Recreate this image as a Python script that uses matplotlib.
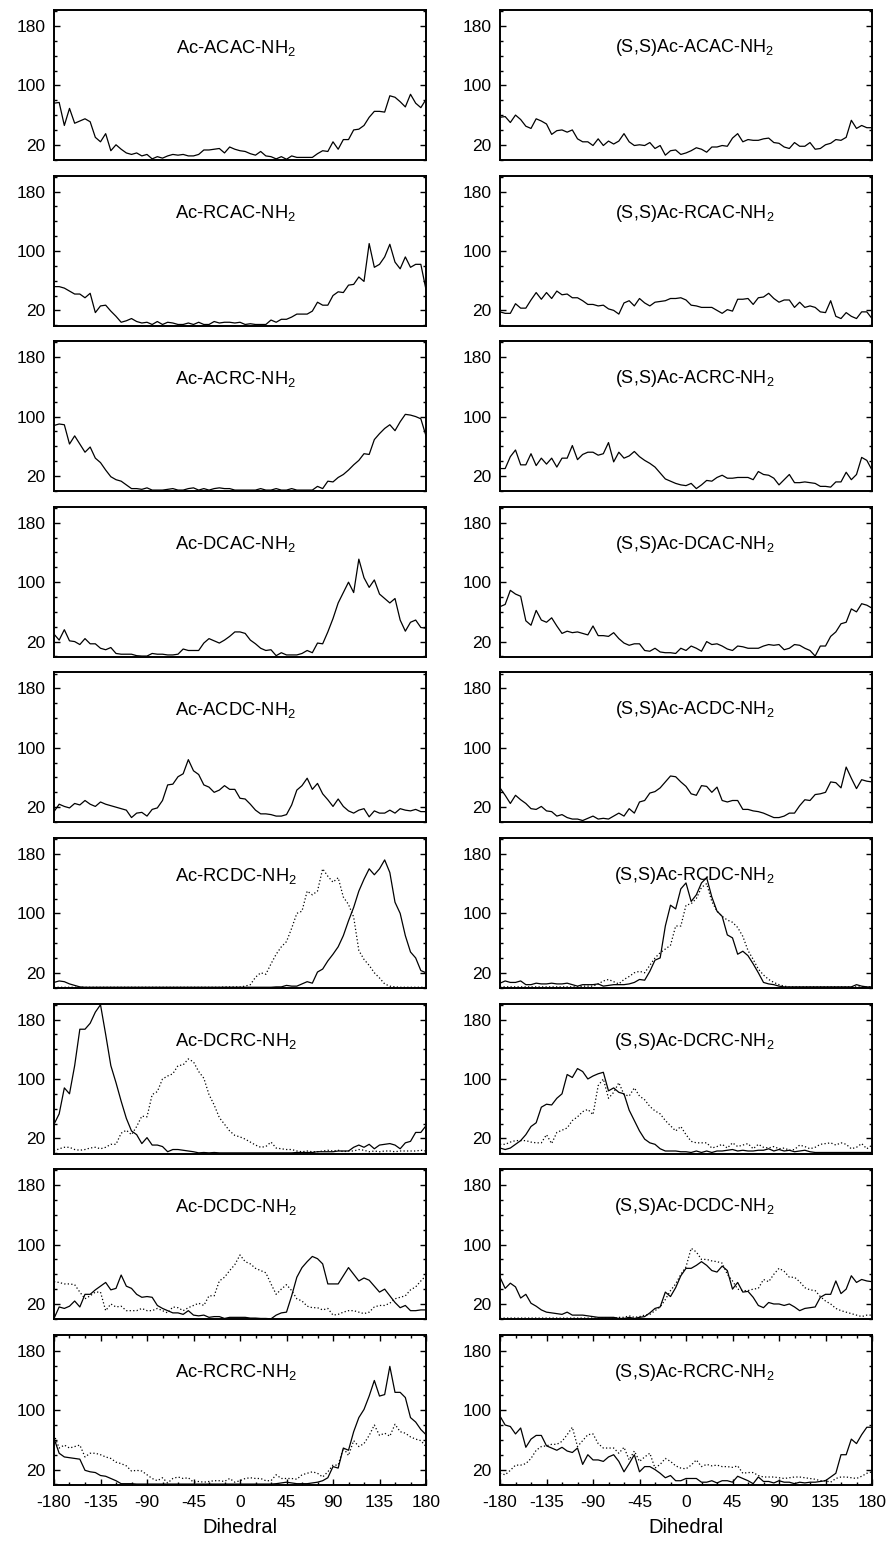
import matplotlib.pyplot as plt
import matplotlib.ticker as mticker

plt.rcParams.update({'font.family': 'Liberation Sans', 'font.size': 12,
                     'mathtext.default': 'regular', 'axes.unicode_minus': False})

# dihedral bins, 5 degree steps
DIHEDRAL = list(range(-180, 181, 5))

# left column (Ac-...), solid lines
acac = [76, 77, 46, 69, 49, 52, 55, 51, 30, 24,
        35, 12, 20, 14, 9, 7, 9, 5, 7, 1,
        4, 2, 5, 7, 6, 7, 5, 5, 7, 13,
        13, 14, 15, 9, 17, 14, 12, 11, 8, 6,
        11, 5, 4, 1, 4, 0.5, 5, 3, 3, 3,
        3, 8, 12, 11, 24, 14, 27, 27, 40, 41,
        46, 57, 65, 65, 64, 86, 84, 78, 71, 88,
        76, 70, 81]
rcac = [52, 52, 50, 46, 42, 42, 37, 43, 17, 26,
        27, 19, 12, 4, 6, 9, 5, 3, 4, 1,
        5, 1, 4, 3, 1, 1, 3, 1, 4, 1,
        1, 5, 3, 4, 4, 3, 4, 1, 2, 1,
        1, 1, 7, 4, 8, 8, 11, 15, 15, 15,
        19, 31, 27, 27, 40, 45, 44, 54, 55, 65,
        59, 110, 78, 82, 92, 109, 85, 76, 92, 78,
        82, 82, 48]
acrc = [88, 90, 89, 63, 74, 63, 52, 59, 44, 38,
        28, 19, 15, 13, 8, 3, 3, 2, 4, 1,
        1, 1, 2, 3, 1, 1, 3, 4, 1, 3,
        1, 3, 4, 3, 3, 1, 1, 1, 1, 1,
        3, 1, 1, 3, 1, 1, 3, 1, 1, 1,
        1, 6, 3, 13, 12, 18, 22, 28, 35, 41,
        50, 49, 69, 77, 84, 89, 81, 93, 103, 102,
        100, 97, 74]
dcac = [30, 22, 36, 21, 20, 16, 24, 17, 17, 11,
        9, 12, 4, 3, 3, 3, 1, 0.5, 0.5, 4,
        3, 3, 2, 2, 3, 10, 8, 8, 8, 18,
        24, 21, 18, 22, 27, 33, 33, 31, 22, 17,
        11, 8, 9, 1, 5, 2, 2, 2, 4, 8,
        5, 18, 17, 33, 51, 72, 86, 100, 86, 131,
        106, 93, 103, 84, 78, 72, 78, 49, 34, 46,
        49, 39, 38]
acdc = [14, 24, 21, 19, 25, 23, 29, 24, 21, 27,
        24, 22, 20, 18, 16, 6, 12, 13, 8, 17,
        19, 29, 50, 51, 61, 65, 84, 69, 64, 50,
        47, 40, 43, 49, 44, 44, 32, 31, 24, 16,
        11, 11, 10, 8, 8, 10, 23, 43, 49, 59,
        44, 52, 38, 30, 21, 31, 21, 15, 12, 16,
        18, 7, 15, 12, 12, 16, 12, 18, 16, 15,
        17, 14, 14]
rcdc = [7, 9, 8, 5, 3, 1, 0.5, 0.5, 0.5, 0.5,
        0.5, 0.5, 0.5, 0.5, 0.5, 0.5, 0.5, 0.5, 0.5, 0.5,
        0.5, 0.5, 0.5, 0.5, 0.5, 0.5, 0.5, 0.5, 0.5, 0.5,
        0.5, 0.5, 0.5, 0.5, 0.5, 0.5, 0.5, 0.5, 0.5, 0.5,
        0.5, 0.5, 0.5, 1, 1, 3, 2, 2, 5, 8,
        6, 21, 25, 36, 45, 55, 70, 90, 108, 130,
        146, 160, 152, 160, 172, 155, 115, 100, 70, 48,
        40, 23, 20]
rcdc_dot = [0.5, 0.5, 0.5, 0.5, 0.5, 0.5, 0.5, 0.5, 0.5, 0.5,
            0.5, 0.5, 0.5, 0.5, 0.5, 0.5, 0.5, 0.5, 0.5, 0.5,
            0.5, 0.5, 0.5, 0.5, 0.5, 0.5, 0.5, 0.5, 0.5, 0.5,
            0.5, 0.5, 0.5, 1, 1, 1, 1, 2, 4, 14,
            20, 18, 32, 45, 55, 62, 80, 100, 103, 130,
            125, 130, 160, 150, 142, 148, 122, 112, 95, 50,
            38, 30, 20, 13, 5, 2, 1, 0.5, 0.5, 0.5,
            0.5, 0.5, 0.5]
dcrc = [39, 53, 88, 80, 118, 167, 167, 175, 190, 200,
        160, 118, 95, 70, 47, 30, 25, 13, 21, 11,
        11, 9, 2, 5, 5, 4, 3, 2, 0.5, 1,
        0.5, 1, 0.5, 0.5, 0.5, 0.5, 0.5, 0.5, 0.5, 0.5,
        0.5, 0.5, 0.5, 0.5, 0.5, 0.5, 0.5, 1, 1, 1,
        1, 2, 2, 2, 2, 3, 3, 3, 8, 11,
        8, 12, 6, 11, 12, 13, 11, 6, 14, 16,
        28, 28, 37]
dcrc_dot = [3, 6, 8, 8, 5, 4, 5, 7, 8, 6,
            8, 12, 12, 27, 31, 25, 36, 50, 49, 79,
            83, 100, 104, 107, 118, 119, 127, 123, 110, 101,
            79, 65, 48, 39, 30, 24, 22, 19, 15, 11,
            8, 9, 15, 7, 6, 5, 5, 3, 2, 3,
            2, 2, 3, 4, 3, 4, 2, 3, 3, 5,
            4, 2, 3, 2, 3, 3, 2, 3, 3, 3,
            3, 4, 3]
dcdc = [0.5, 16, 14, 17, 24, 16, 33, 33, 39, 44,
        49, 39, 41, 59, 44, 41, 33, 29, 30, 29,
        18, 14, 11, 8, 8, 6, 11, 5, 4, 5,
        2, 3, 3, 0.5, 2, 2, 2, 2, 1, 1,
        0.5, 0.5, 0, 5, 8, 9, 31, 56, 69, 77,
        84, 81, 74, 47, 47, 47, 58, 69, 60, 51,
        55, 52, 44, 36, 40, 31, 22, 15, 18, 11,
        11, 12, 12]
dcdc_dot = [50, 49, 47, 47, 46, 36, 27, 31, 36, 36,
            11, 20, 16, 17, 11, 11, 11, 14, 11, 11,
            14, 11, 8, 16, 15, 11, 15, 18, 21, 18,
            31, 31, 51, 56, 65, 73, 86, 77, 74, 68,
            65, 62, 47, 33, 40, 46, 38, 27, 24, 17,
            15, 15, 12, 14, 5, 6, 9, 11, 11, 9,
            7, 9, 16, 18, 18, 21, 27, 29, 31, 39,
            43, 51, 58]
rcrc = [62, 42, 37, 36, 35, 34, 19, 17, 16, 12,
        11, 8, 5, 1, 1, 1, 0.5, 0.5, 0.5, 0.5,
        0.5, 0.5, 0.5, 0.5, 0.5, 0.5, 0.5, 0.5, 0.5, 0.5,
        0.5, 0.5, 0.5, 0.5, 0.5, 0.5, 0.5, 0.5, 0.5, 0.5,
        0.5, 0.5, 0.5, 1, 2, 3, 2, 1, 1, 1,
        2, 3, 5, 9, 24, 22, 49, 46, 71, 90,
        101, 119, 140, 119, 121, 159, 124, 124, 117, 90,
        84, 74, 67]
rcrc_dot = [67, 49, 53, 49, 51, 53, 37, 42, 42, 40,
            37, 35, 30, 28, 25, 18, 19, 18, 13, 8,
            5, 9, 2, 8, 10, 8, 9, 3, 4, 3,
            4, 5, 5, 4, 8, 3, 5, 8, 9, 8,
            8, 5, 5, 13, 8, 8, 8, 7, 13, 15,
            17, 15, 10, 17, 26, 26, 49, 39, 59, 51,
            55, 66, 80, 66, 69, 65, 81, 71, 69, 64,
            61, 59, 51]

# right column ((S,S)Ac-...)
ss_acac = [57, 58, 50, 60, 54, 45, 42, 55, 52, 48,
           34, 39, 40, 37, 40, 28, 24, 24, 19, 28,
           19, 25, 21, 25, 35, 24, 19, 20, 19, 23,
           15, 19, 6, 12, 13, 7, 9, 12, 16, 14,
           10, 17, 17, 19, 18, 29, 35, 24, 27, 26,
           26, 28, 29, 23, 22, 17, 15, 23, 18, 18,
           23, 14, 15, 20, 22, 27, 26, 30, 53, 42,
           46, 43, 43]
ss_rcac = [18, 16, 16, 29, 23, 23, 34, 44, 35, 44,
           36, 46, 41, 42, 37, 37, 33, 28, 28, 26,
           27, 22, 20, 15, 30, 33, 26, 36, 30, 26,
           31, 32, 33, 36, 36, 37, 34, 27, 26, 24,
           24, 24, 20, 16, 21, 19, 35, 35, 36, 28,
           37, 38, 43, 36, 31, 34, 34, 24, 31, 24,
           26, 24, 18, 17, 33, 12, 9, 17, 12, 9,
           18, 18, 9]
ss_acrc = [30, 30, 46, 55, 35, 35, 50, 34, 44, 36,
           44, 32, 44, 44, 61, 42, 49, 52, 52, 48,
           50, 65, 39, 52, 44, 47, 53, 46, 41, 37,
           32, 24, 16, 13, 10, 8, 7, 10, 3, 8,
           14, 13, 18, 21, 17, 17, 18, 18, 18, 15,
           26, 22, 21, 17, 8, 15, 22, 11, 11, 12,
           11, 10, 6, 6, 5, 12, 12, 25, 15, 22,
           45, 41, 28]
ss_dcac = [67, 70, 89, 84, 81, 48, 42, 62, 49, 46,
           52, 41, 31, 34, 32, 33, 31, 29, 41, 28,
           28, 27, 32, 24, 18, 15, 17, 17, 8, 7,
           11, 6, 5, 5, 4, 11, 8, 14, 11, 7,
           20, 16, 17, 14, 10, 8, 14, 13, 11, 11,
           11, 14, 16, 15, 16, 9, 11, 16, 15, 11,
           8, 0.5, 14, 14, 27, 33, 44, 46, 64, 60,
           71, 69, 65]
ss_acdc = [46, 36, 25, 36, 30, 25, 18, 17, 21, 15,
           14, 8, 10, 6, 4, 4, 2, 5, 8, 4,
           5, 4, 8, 12, 8, 18, 12, 27, 29, 39,
           41, 46, 54, 62, 61, 54, 48, 38, 36, 49,
           48, 40, 47, 29, 27, 29, 29, 17, 17, 15,
           14, 12, 9, 6, 6, 8, 12, 12, 22, 30,
           29, 37, 38, 40, 54, 53, 46, 74, 59, 45,
           57, 55, 54]
ss_rcdc = [6, 9, 7, 7, 9, 4, 4, 6, 5, 5,
           6, 5, 5, 6, 4, 2, 4, 4, 4, 5,
           2, 3, 4, 4, 4, 5, 7, 11, 10, 22,
           37, 40, 83, 111, 106, 133, 141, 116, 125, 141,
           148, 122, 103, 96, 71, 67, 45, 49, 43, 32,
           20, 7, 5, 4, 2, 1, 1, 1, 1, 1,
           1, 1, 1, 1, 1, 1, 1, 1, 1, 4,
           2, 1, 1]
ss_rcdc_dot = [1, 1, 1, 1, 1, 1, 1, 1, 1, 1,
               1, 1, 1, 1, 1, 1, 2, 2, 2, 5,
               9, 11, 8, 5, 11, 15, 20, 22, 20, 30,
               40, 47, 52, 57, 83, 83, 111, 113, 120, 135,
               140, 116, 103, 96, 91, 88, 81, 69, 50, 38,
               25, 17, 11, 7, 4, 2, 1, 1, 1, 1,
               1, 1, 1, 1, 1, 1, 1, 1, 1, 1,
               1, 1, 1]
ss_dcrc = [7, 5, 7, 12, 17, 25, 36, 41, 62, 66,
           65, 74, 80, 106, 102, 114, 110, 100, 104, 107,
           109, 84, 88, 82, 80, 58, 44, 30, 19, 14,
           12, 6, 3, 3, 3, 2, 2, 1, 3, 1,
           3, 1, 3, 3, 4, 5, 3, 4, 3, 3,
           4, 4, 6, 3, 5, 3, 4, 2, 3, 4,
           2, 1, 1, 1, 1, 1, 1, 1, 1, 1,
           1, 1, 1]
ss_dcrc_dot = [12, 12, 15, 17, 17, 17, 15, 14, 14, 25,
               13, 28, 31, 34, 44, 49, 56, 59, 52, 91,
               100, 74, 82, 95, 79, 77, 88, 77, 72, 63,
               57, 53, 44, 37, 30, 36, 25, 16, 14, 14,
               14, 7, 9, 12, 7, 14, 9, 11, 13, 6,
               12, 8, 7, 9, 6, 7, 4, 5, 11, 9,
               6, 8, 12, 13, 14, 11, 14, 12, 6, 8,
               13, 6, 11]
ss_dcdc = [56, 41, 48, 43, 28, 33, 21, 17, 12, 9,
           8, 7, 6, 9, 5, 5, 5, 4, 3, 2,
           2, 2, 2, 0.5, 0.5, 2, 0.5, 2, 3, 8,
           14, 16, 36, 30, 42, 58, 68, 68, 72, 77,
           72, 65, 63, 71, 65, 40, 49, 36, 37, 29,
           18, 15, 22, 20, 20, 18, 20, 16, 11, 14,
           15, 16, 29, 33, 33, 51, 34, 40, 58, 49,
           53, 51, 50]
ss_dcdc_dot = [1, 1, 1, 1, 1, 1, 1, 1, 1, 1,
               1, 1, 1, 1, 1, 1, 1, 1, 1, 1,
               1, 1, 1, 2, 2, 4, 2, 3, 5, 6,
               11, 16, 26, 38, 47, 60, 70, 95, 90, 80,
               80, 78, 77, 75, 60, 51, 40, 38, 38, 40,
               41, 53, 50, 60, 68, 64, 56, 56, 50, 42,
               39, 38, 30, 24, 20, 14, 11, 9, 7, 5,
               3, 5, 5]
ss_rcrc = [92, 80, 78, 68, 76, 50, 61, 66, 66, 52,
           49, 46, 50, 45, 43, 49, 27, 40, 33, 33,
           31, 37, 40, 31, 17, 28, 40, 17, 24, 24,
           20, 15, 9, 12, 5, 5, 8, 8, 8, 3,
           3, 5, 2, 5, 5, 3, 11, 8, 5, 1,
           10, 4, 4, 2, 5, 3, 3, 1, 3, 2,
           3, 3, 4, 5, 10, 15, 40, 40, 61, 55,
           67, 77, 77]
ss_rcrc_dot = [15, 13, 19, 26, 26, 28, 35, 46, 51, 52,
               54, 54, 58, 67, 77, 51, 59, 67, 68, 55,
               49, 49, 49, 42, 50, 33, 45, 31, 37, 42,
               22, 27, 35, 31, 25, 22, 21, 26, 33, 24,
               27, 25, 26, 24, 24, 23, 25, 15, 16, 16,
               12, 10, 10, 10, 9, 8, 9, 10, 10, 9,
               8, 7, 5, 5, 3, 8, 10, 10, 9, 8,
               11, 15, 17]

LEFT_NAMES = ['ACAC', 'RCAC', 'ACRC', 'DCAC', 'ACDC', 'RCDC', 'DCRC', 'DCDC', 'RCRC']
LEFT_SOLID = [acac, rcac, acrc, dcac, acdc, rcdc, dcrc, dcdc, rcrc]
LEFT_DOT = [None, None, None, None, None, rcdc_dot, dcrc_dot, dcdc_dot, rcrc_dot]
RIGHT_SOLID = [ss_acac, ss_rcac, ss_acrc, ss_dcac, ss_acdc, ss_rcdc, ss_dcrc, ss_dcdc, ss_rcrc]
RIGHT_DOT = [None, None, None, None, None, ss_rcdc_dot, ss_dcrc_dot, ss_dcdc_dot, ss_rcrc_dot]

W, H = 891, 1541
fig = plt.figure(figsize=(W / 100, H / 100), dpi=100)

for row in range(9):
    top = 10 + 165.6 * row
    for col in range(2):
        x0 = [54, 500][col]
        ax = fig.add_axes([x0 / W, 1 - (top + 150) / H, 372 / W, 150 / H])
        solid = [LEFT_SOLID, RIGHT_SOLID][col][row]
        dot = [LEFT_DOT, RIGHT_DOT][col][row]
        if dot is not None:
            ax.plot(DIHEDRAL, dot, color='black', lw=0.9, ls=(0, (1, 1.8)))
        ax.plot(DIHEDRAL, solid, color='black', lw=0.9)

        name = LEFT_NAMES[row]
        if col == 0:
            ax.text(0.489, 0.75, 'Ac-%s-NH$_2$' % name, transform=ax.transAxes,
                    ha='center', va='center', fontsize=13.2)
        else:
            ax.text(0.523, 0.75, '(S,S)Ac-%s-NH$_2$' % name, transform=ax.transAxes,
                    ha='center', va='center', fontsize=13)

        ax.set_xlim(-180, 180)
        ax.set_ylim(-0.5, 201.5)
        ax.set_yticks([20, 100, 180])
        ax.yaxis.set_minor_locator(mticker.MultipleLocator(20))
        ax.tick_params(axis='y', which='both', direction='in', left=True, right=True,
                       width=1.0, labelsize=12.5, pad=6)
        ax.tick_params(axis='y', which='major', length=4)
        ax.tick_params(axis='y', which='minor', length=2)
        for sp in ax.spines.values():
            sp.set_linewidth(1.4)

        if row == 8:
            ax.set_xticks(range(-180, 181, 45))
            ax.xaxis.set_minor_locator(mticker.MultipleLocator(15))
            ax.tick_params(axis='x', which='both', direction='in', top=True, bottom=True,
                           width=1.0, labelsize=12.5, pad=7)
            ax.tick_params(axis='x', which='major', length=4)
            ax.tick_params(axis='x', which='minor', length=2)
            ax.set_xlabel('Dihedral', fontsize=14.5, labelpad=6)
        else:
            ax.tick_params(axis='x', which='both', bottom=False, top=False,
                           labelbottom=False)

fig.savefig('out.png', dpi=100, facecolor='white')
